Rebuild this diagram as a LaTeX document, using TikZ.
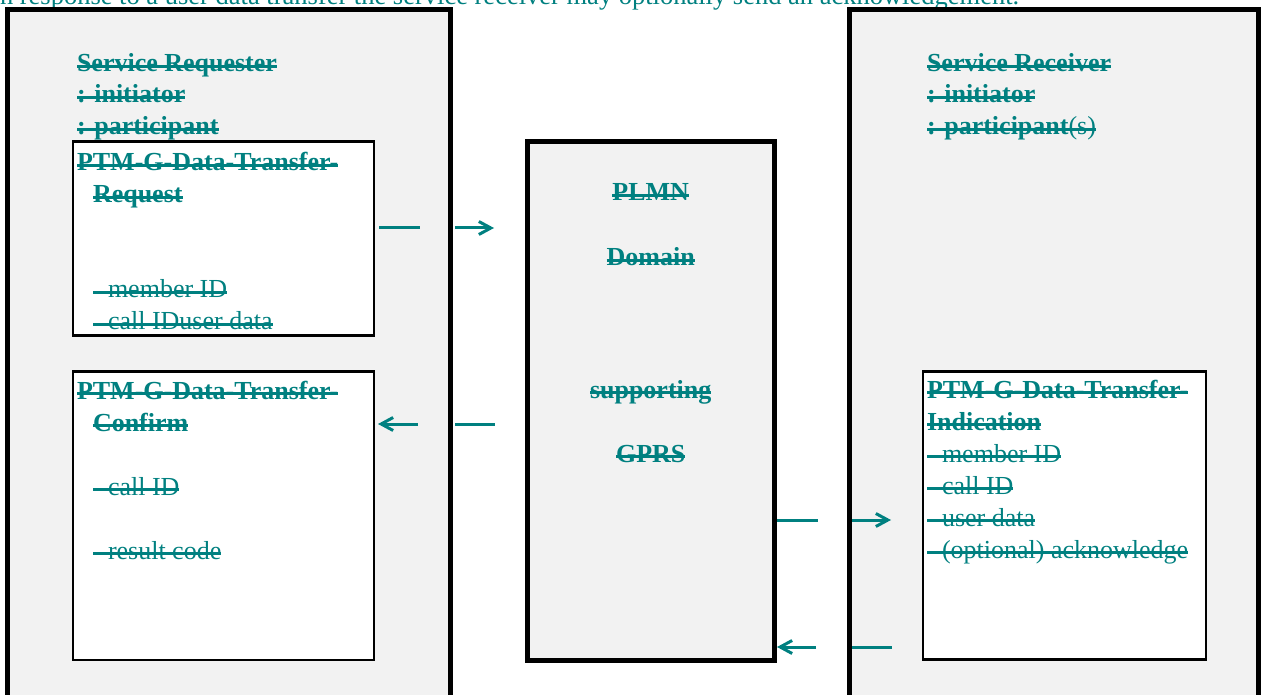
\documentclass[tikz,border=0pt]{standalone}
\usepackage{fontspec}
\setmainfont{Liberation Serif}
\usetikzlibrary{arrows.meta}
\definecolor{tl}{RGB}{0,128,128}
\definecolor{bgg}{RGB}{242,242,242}
\newcommand\strk[1]{\setbox0=\hbox{#1}\rlap{\rule[0.17em]{\wd0}{2.4pt}}\box0}
\tikzset{
  bigbox/.style={draw=black, fill=bgg, line width=5pt, anchor=north west, inner sep=0, outer sep=0},
  inbox/.style={draw=black, fill=white, line width=2.5pt, anchor=north west, inner sep=0, outer sep=0},
  lbl/.style={anchor=base west, inner sep=0, outer sep=0, text=tl, font=\fontsize{26}{32}\selectfont\bfseries},
  reg/.style={lbl, font=\fontsize{26}{32}\selectfont},
  ctr/.style={lbl, anchor=base},
  seg/.style={draw=tl, line width=3pt},
  tip/.style={seg, -{Straight Barb[length=12pt,width=13pt]}}
}
\begin{document}
\begin{tikzpicture}[x=1pt, y=-1pt]
\useasboundingbox (0,0) rectangle (1262,695);
\clip (0,0) rectangle (1262,695);
% caption (cut at the top)
\node[anchor=base west, inner sep=0, text=tl, font=\fontsize{26.5}{30}\selectfont] (cap) at (-9,5)
  {In response to a user data transfer the service receiver may optionally send an acknowledgement.};
% containers
\node[bigbox, minimum width=442.5pt, minimum height=710pt] (left) at (7.5,9.7) {};
\node[bigbox, minimum width=409pt, minimum height=710pt] (right) at (849.5,9.7) {};
\node[bigbox, minimum width=246.5pt, minimum height=519pt] (plmn) at (527.5,141.5) {};
\node[inbox, minimum width=301pt, minimum height=194pt] (req) at (73,141.5) {};
\node[inbox, minimum width=301pt, minimum height=288.5pt] (cnf) at (73,371.5) {};
\node[inbox, minimum width=283pt, minimum height=288pt] (ind) at (923,371.5) {};
% service requester
\node[lbl] (sr1) at (77,72) {\strk{Service Requester}};
\node[lbl] (sr2) at (77,103) {\strk{: initiator}};
\node[lbl] (sr3) at (77,135) {\strk{: participant}};
% service receiver
\node[lbl] (rr1) at (927,72) {\strk{Service Receiver}};
\node[lbl] (rr2) at (927,103) {\strk{: initiator}};
\node[lbl] (rr3) at (927,135) {\strk{: participant\mdseries(s)}};
% request
\node[lbl] (rq1) at (77,171) {\strk{PTM-G-Data-Transfer-}};
\node[lbl] (rq2) at (93,203) {\strk{Request}};
\node[reg] (rq3) at (93,298) {\strk{\hspace{15pt}member ID}};
\node[reg] (rq4) at (93,330) {\strk{\hspace{15pt}call IDuser data}};
% confirm
\node[lbl] (cf1) at (77,399) {\strk{PTM-G-Data-Transfer-}};
\node[lbl] (cf2) at (93,431) {\strk{Confirm}};
\node[reg] (cf3) at (93,495) {\strk{\hspace{15pt}call ID}};
\node[reg] (cf4) at (93,559) {\strk{\hspace{15pt}result code}};
% indication
\node[lbl] (in1) at (927,398) {\strk{PTM-G-Data-Transfer-}};
\node[lbl] (in2) at (927,430) {\strk{Indication}};
\node[reg] (in3) at (927,462) {\strk{\hspace{15pt}member ID}};
\node[reg] (in4) at (927,494) {\strk{\hspace{15pt}call ID}};
\node[reg] (in5) at (927,526) {\strk{\hspace{15pt}user data}};
\node[reg] (in6) at (927,558) {\strk{\hspace{15pt}(optional) acknowledge}};
% PLMN
\node[ctr] (p1) at (650.7,201) {\strk{PLMN}};
\node[ctr] (p2) at (650.7,266) {\strk{Domain}};
\node[ctr] (p3) at (650.7,398) {\strk{supporting}};
\node[ctr] (p4) at (650.7,462) {\strk{GPRS}};
% arrow segments
\coordinate (a1s) at (379,228); \coordinate (a1e) at (420,228);
\coordinate (a2s) at (455,228); \coordinate (a2e) at (494,228);
\coordinate (b1s) at (418,424); \coordinate (b1e) at (378,424);
\coordinate (b2s) at (455,424); \coordinate (b2e) at (495,424);
\coordinate (c1s) at (777,520); \coordinate (c1e) at (818,520);
\coordinate (c2s) at (852,520); \coordinate (c2e) at (891,520);
\coordinate (d1s) at (816,647); \coordinate (d1e) at (777,647);
\coordinate (d2s) at (852,647); \coordinate (d2e) at (892,647);
\draw[seg] (a1s) -- (a1e);
\draw[tip] (a2s) -- (a2e);
\draw[tip] (b1s) -- (b1e);
\draw[seg] (b2s) -- (b2e);
\draw[seg] (c1s) -- (c1e);
\draw[tip] (c2s) -- (c2e);
\draw[tip] (d1s) -- (d1e);
\draw[seg] (d2s) -- (d2e);
\end{tikzpicture}
\end{document}
